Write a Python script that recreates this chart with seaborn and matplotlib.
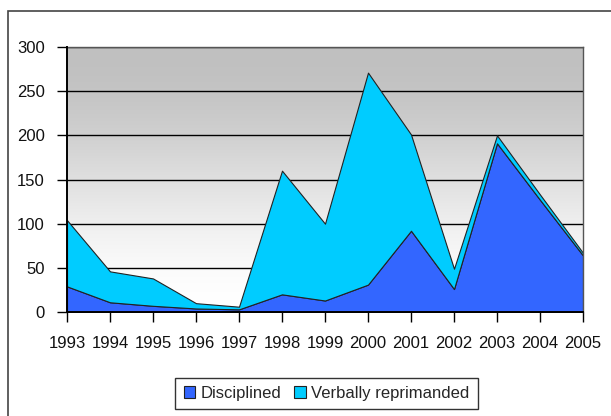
import numpy as np
import pandas as pd
import matplotlib
matplotlib.use("Agg")
import matplotlib.pyplot as plt
import seaborn as sns
from matplotlib.patches import Rectangle, Patch

years = [1993, 1994, 1995, 1996, 1997, 1998, 1999, 2000, 2001, 2002, 2003, 2004, 2005]
disciplined = [29, 11, 7, 4, 3, 20, 13, 31, 92, 26, 191, 127, 64]
verbally = [75, 35, 31, 6, 3, 140, 87, 240, 109, 23, 9, 6, 3]
series_names = ["Disciplined", "Verbally reprimanded"]
colors = ["#3366FF", "#00CCFF"]
yticks = [0, 50, 100, 150, 200, 250, 300]

df = pd.DataFrame({"Year": years, "Disciplined": disciplined, "Verbally reprimanded": verbally})

sns.set_style("white")
plt.rcParams["font.family"] = ["Liberation Sans", "DejaVu Sans"]

fig = plt.figure(figsize=(6.11, 4.16), dpi=100)
ax = fig.add_axes([67/611, 1-312/416, (583-67)/611, (312-47)/416])

# gradient background (grey at top, white at bottom)
t = np.linspace(1, 0, 256)
s = 3*t**2 - 2*t**3
vals = 1.0 - (63/255)*s
grad = np.stack([vals, vals, vals], axis=-1).reshape(256, 1, 3)
ax.imshow(grad, extent=[years[0], years[-1], 0, 300], aspect="auto", origin="upper", zorder=0)

for yv in yticks[1:]:
    ax.axhline(yv, color="black", lw=1.0, zorder=1)

ax.stackplot(df["Year"], df["Disciplined"], df["Verbally reprimanded"],
             colors=colors, edgecolor="#222222", linewidth=0.8, zorder=2)

ax.set_xlim(years[0], years[-1])
ax.set_ylim(0, 300)
ax.set_xticks(years)
ax.set_xticklabels([str(y) for y in years])
ax.set_yticks(yticks)
ax.set_yticklabels([str(v) for v in yticks])
ax.tick_params(axis="both", direction="out", length=7, width=1, color="black",
               labelsize=12, labelcolor="#111111")
ax.tick_params(axis="x", pad=10, bottom=True)
ax.tick_params(axis="y", pad=9, left=True)
for side in ["left", "bottom"]:
    ax.spines[side].set_color("black")
    ax.spines[side].set_linewidth(1.4)
    ax.spines[side].set_zorder(5)
for side in ["top", "right"]:
    ax.spines[side].set_color("#555555")
    ax.spines[side].set_linewidth(1.0)
ax.set_xlabel("")
ax.set_ylabel("")

handles = [Patch(facecolor=c, edgecolor="#222222", linewidth=0.8, label=n) for c, n in zip(colors, series_names)]
leg = fig.legend(handles=handles, loc="center", bbox_to_anchor=(326.5/611, 1-393.5/416), ncol=2,
                 frameon=True, fancybox=False, shadow=False, fontsize=12,
                 handlelength=0.7, handleheight=0.7, handletextpad=0.3, columnspacing=0.8,
                 borderpad=0.5)
leg.get_frame().set_edgecolor("black")
leg.get_frame().set_linewidth(1.0)

fig.patches.append(Rectangle((8/611, -0.1), 1.2, 1-11/416+0.1, transform=fig.transFigure,
                             fill=False, edgecolor="#444444", linewidth=1.2))

fig.savefig("out.png", dpi=100)
